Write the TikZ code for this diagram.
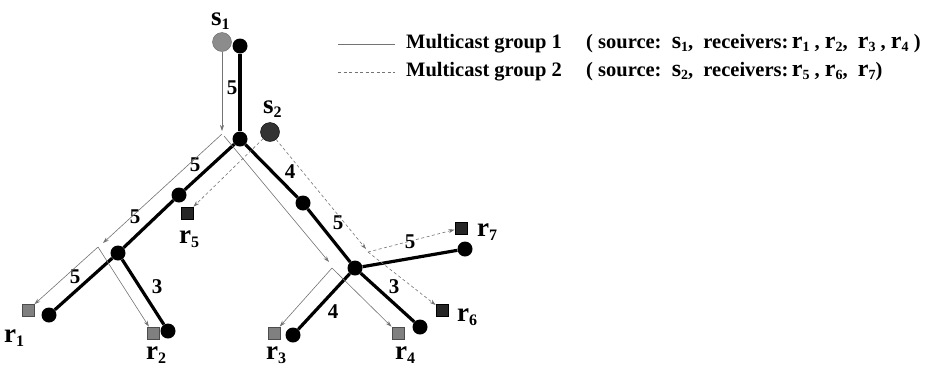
\documentclass[tikz,border=0pt]{standalone}
\usepackage{fontspec}
\setmainfont{Liberation Serif}
\usetikzlibrary{arrows.meta}
\newcommand{\lbl}[2]{{\fontsize{27}{27}\selectfont #1}\raisebox{-4.5pt}{\fontsize{16}{16}\selectfont #2}}
\newcommand{\lgl}[2]{{\fontsize{24}{24}\selectfont #1}\raisebox{-3.5pt}{\fontsize{14}{14}\selectfont #2}}
\begin{document}
\begin{tikzpicture}[x=1pt,y=-1pt,
  router/.style={circle,fill=black,inner sep=0pt,minimum size=15pt},
  srcone/.style={circle,fill=black!45,draw=black!60,line width=0.4pt,inner sep=0pt,minimum size=19pt},
  srctwo/.style={circle,fill=black!80,draw=black,line width=0.4pt,inner sep=0pt,minimum size=19pt},
  rcvone/.style={rectangle,fill=black!50,draw=black!70,line width=0.4pt,inner sep=0pt,minimum size=12.5pt},
  rcvtwo/.style={rectangle,fill=black!85,draw=black,line width=0.4pt,inner sep=0pt,minimum size=12.5pt},
  link/.style={line width=3.2pt,black},
  gone/.style={line width=0.6pt,black!55},
  gtwo/.style={line width=0.6pt,black!55,dash pattern=on 3pt off 2.5pt},
  tip/.style={-{Stealth[length=6pt,width=4pt]}},
  wlab/.style={font=\fontsize{21}{21}\selectfont\bfseries,inner sep=0pt},
  nlab/.style={font=\bfseries,inner sep=0pt,anchor=base west},
  legtext/.style={font=\fontsize{20.5}{20.5}\selectfont\bfseries,inner sep=0pt,anchor=base west}
]
\useasboundingbox (0,0) rectangle (926,368);

% routers
\node[router] (A) at (240,46) {};
\node[router] (B) at (240,139) {};
\node[router] (C) at (179,195) {};
\node[router] (D) at (118,253) {};
\node[router] (E) at (49,315) {};
\node[router] (F) at (168,331) {};
\node[router] (G) at (303,203) {};
\node[router] (H) at (355,268) {};
\node[router] (I) at (465,249) {};
\node[router] (J) at (293,335) {};
\node[router] (K) at (420,327) {};

% links
\draw[link] (A) -- (B);
\draw[link] (B) -- (C);
\draw[link] (C) -- (D);
\draw[link] (D) -- (E);
\draw[link] (D) -- (F);
\draw[link] (B) -- (G);
\draw[link] (G) -- (H);
\draw[link] (H) -- (I);
\draw[link] (H) -- (J);
\draw[link] (H) -- (K);

% sources and receivers
\node[srcone] (s1) at (222,42) {};
\node[srctwo] (s2) at (270,132) {};
\node[rcvone] (r1) at (28,310) {};
\node[rcvone] (r2) at (153,333) {};
\node[rcvone] (r3) at (274,333) {};
\node[rcvone] (r4) at (398,333) {};
\node[rcvtwo] (r5) at (187,213) {};
\node[rcvtwo] (r6) at (442,310) {};
\node[rcvtwo] (r7) at (461,228) {};

% labels of sources and receivers
\node[nlab] (ls1) at (211,25) {\lbl{s}{1}};
\node[nlab] (ls2) at (263,113) {\lbl{s}{2}};
\node[nlab] (lr1) at (4,342) {\lbl{r}{1}};
\node[nlab] (lr2) at (146,359) {\lbl{r}{2}};
\node[nlab] (lr3) at (266,359) {\lbl{r}{3}};
\node[nlab] (lr4) at (395,359) {\lbl{r}{4}};
\node[nlab] (lr5) at (179,243) {\lbl{r}{5}};
\node[nlab] (lr6) at (457,321) {\lbl{r}{6}};
\node[nlab] (lr7) at (477,236) {\lbl{r}{7}};

% link weights
\node[wlab] (w1) at (232,88) {5};
\node[wlab] (w2) at (195,165) {5};
\node[wlab] (w3) at (290,172) {4};
\node[wlab] (w4) at (135,217) {5};
\node[wlab] (w5) at (75,277) {5};
\node[wlab] (w6) at (157,287) {3};
\node[wlab] (w7) at (338,223) {5};
\node[wlab] (w8) at (410,242) {5};
\node[wlab] (w9) at (394,287) {3};
\node[wlab] (w10) at (333,312) {4};

% multicast group 1 (source s1)
\coordinate (p0) at (222,131);
\coordinate (p1) at (222,134);
\coordinate (p2) at (224,136);
\coordinate (q1) at (103,243);
\coordinate (q2) at (98,247);
\coordinate (q3) at (329,262);
\coordinate (q4) at (332,268);
\draw[gone,tip] (s1) -- (p0);
\draw[gone,tip] (p1) -- (q1);
\draw[gone,tip] (q2) -- (r1);
\draw[gone,tip] (q2) -- (r2);
\draw[gone,tip] (p2) -- (q3);
\draw[gone,tip] (q4) -- (r3);
\draw[gone,tip] (q4) -- (r4);

% multicast group 2 (source s2)
\coordinate (q5) at (366,249);
\coordinate (q6) at (368,252);
\draw[gtwo,tip] (s2) -- (r5);
\draw[gtwo,tip] (s2) -- (q5);
\draw[gtwo,tip] (q6) -- (r7);
\draw[gtwo,tip] (q6) -- (r6);

% legend
\coordinate (la1) at (338,44);
\coordinate (lb1) at (395,44);
\coordinate (la2) at (338,72);
\coordinate (lb2) at (395,72);
\draw[gone] (la1) -- (lb1);
\draw[gtwo] (la2) -- (lb2);
\node[legtext] (lt1) at (406,48) {Multicast group 1};
\node[legtext] (lu1) at (586,48) {( source:\ \ \lgl{s}{1},\ \ receivers:\,\lgl{r}{1} , \lgl{r}{2},\ \ \lgl{r}{3} , \lgl{r}{4} )};
\node[legtext] (lt2) at (406,76) {Multicast group 2};
\node[legtext] (lu2) at (586,76) {( source:\ \ \lgl{s}{2},\ \ receivers:\,\lgl{r}{5} , \lgl{r}{6},\ \ \lgl{r}{7})};
\end{tikzpicture}
\end{document}
